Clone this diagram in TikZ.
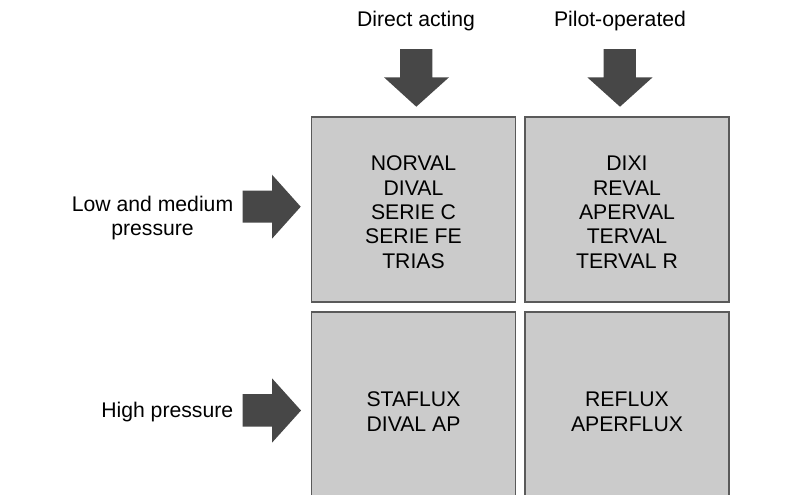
\documentclass[tikz,border=0pt]{standalone}
\usepackage{fontspec}
\setmainfont{Liberation Sans}
\definecolor{boxfill}{HTML}{CBCBCB}
\definecolor{boxline}{HTML}{5A5A5A}
\definecolor{arrowfill}{HTML}{474747}
\begin{document}
\begin{tikzpicture}[x=0.75pt,y=-0.75pt,
  cell/.style={draw=boxline, line width=1.1pt, fill=boxfill, minimum width=204*0.75pt, inner sep=0pt},
  lbl/.style={align=center, inner sep=0pt, yshift=-2pt, font=\fontsize{15.9}{18.3}\selectfont},
  bigarrow/.style={fill=arrowfill, draw=none}]
\useasboundingbox (0,0) rectangle (799,494);
\clip (0,0) rectangle (799,494);
\fill[white] (0,0) rectangle (799,494);

% boxes
\node[cell, minimum height=185*0.75pt] (a) at (413.5,209.5) {};
\node[cell, minimum height=185*0.75pt] (b) at (627,209.5) {};
\node[cell, minimum height=194*0.75pt] (c) at (413.5,409) {};
\node[cell, minimum height=194*0.75pt] (d) at (627,409) {};
\node[lbl] (at) at (a) {NORVAL\\DIVAL\\SERIE C\\SERIE FE\\TRIAS};
\node[lbl] (bt) at (b) {DIXI\\REVAL\\APERVAL\\TERVAL\\TERVAL R};
\node[lbl] (ct) at (c) {STAFLUX\\DIVAL AP};
\node[lbl] (dt) at (d) {REFLUX\\APERFLUX};

% column labels
\node[lbl] (t1) at (416,18) {Direct acting};
\node[lbl] (t2) at (620,18) {Pilot-operated};

% row labels
\node[lbl, anchor=east] (r1) at (233.5,215.5) {Low and medium\\pressure};
\node[lbl, anchor=east] (r2) at (233.5,409) {High pressure};

% down arrows
\fill[bigarrow] (400,49) -- (432.3,49) -- (432.3,77.3) -- (449,77.3) -- (416.3,106.7) -- (384,77.3) -- (400,77.3) -- cycle;
\fill[bigarrow] (603.5,49) -- (635.8,49) -- (635.8,77.3) -- (652.6,77.3) -- (620,106.7) -- (587.3,77.3) -- (603.5,77.3) -- cycle;

% right arrows
\fill[bigarrow] (242.7,190.7) -- (272,190.7) -- (272,174.7) -- (300.7,206.7) -- (272,238.7) -- (272,222.7) -- (242.7,222.7) -- cycle;
\fill[bigarrow] (242.7,394) -- (272,394) -- (272,378.3) -- (301,410.5) -- (272,442.7) -- (272,426.7) -- (242.7,426.7) -- cycle;
\end{tikzpicture}
\end{document}
